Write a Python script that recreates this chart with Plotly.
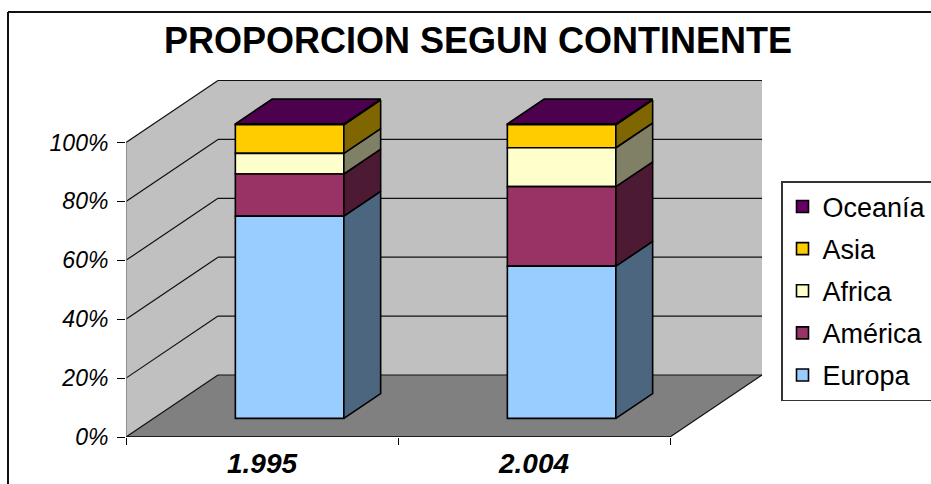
import plotly.graph_objects as go

years = ["1.995", "2.004"]
series_names = ["Europa", "América", "Africa", "Asia", "Oceanía"]
europa = [68.7, 51.7]
america = [14.3, 27.0]
africa = [7.0, 13.2]
asia = [9.7, 7.8]
oceania = [0.3, 0.3]
pct_ticks = [0, 20, 40, 60, 80, 100]
pct_labels = ["0%", "20%", "40%", "60%", "80%", "100%"]

front_colors = ["#99CCFF", "#993366", "#FFFFCC", "#FFCC00", "#660066"]
side_colors = ["#4D6680", "#4D1A33", "#808066", "#806600", "#330033"]
top_color = "#4D004D"

# Geometry of the oblique projection, in pixels
L, T, W_PX, H_PX = 126, 76, 640, 361
CAT_PX = 272
PCT_PX = 2.945
DEPTH_X = 92 / CAT_PX
DEPTH_Y = 62 / PCT_PX
BAR_W = 108.5 / CAT_PX
D_FRONT, D_BACK = 0.3, 0.7


def proj(x, y, d=0.0):
    return x + d * DEPTH_X, y + d * DEPTH_Y


def path(points):
    pts = [proj(*p) for p in points]
    return "M" + "L".join(f"{x:.4f},{y:.4f}" for x, y in pts) + "Z"


shapes = []
WALL = "#C0C0C0"
FLOOR = "#808080"
n = len(years)
shapes.append(dict(type="path", xref="x", yref="y", layer="below", fillcolor=WALL, line=dict(width=0),
                   path=path([(0, 0, 0), (0, 0, 1), (0, 100, 1), (0, 100, 0)])))
shapes.append(dict(type="path", xref="x", yref="y", layer="below", fillcolor=WALL, line=dict(width=0),
                   path=path([(0, 0, 1), (n, 0, 1), (n, 100, 1), (0, 100, 1)])))
shapes.append(dict(type="path", xref="x", yref="y", layer="below", fillcolor=FLOOR, line=dict(width=0),
                   path=path([(0, 0, 0), (n, 0, 0), (n, 0, 1), (0, 0, 1)])))
for v in pct_ticks:
    x0, y0 = proj(0, v, 0)
    x1, y1 = proj(0, v, 1)
    x2, y2 = proj(n, v, 1)
    shapes.append(dict(type="line", xref="x", yref="y", layer="below", x0=x0, y0=y0, x1=x1, y1=y1,
                       line=dict(color="#111111", width=1.2)))
    shapes.append(dict(type="line", xref="x", yref="y", layer="below", x0=x1, y0=y1, x1=x2, y1=y2,
                       line=dict(color="#111111", width=1.2)))
x3, y3 = proj(n, 0, 0)
x4, y4 = proj(n, 0, 1)
shapes.append(dict(type="line", xref="x", yref="y", layer="below", x0=x3, y0=y3, x1=x4, y1=y4,
                   line=dict(color="#111111", width=1.2)))


# Outer frame (only left and top edges are visible in the crop)
def px(xp):
    return (xp - L) / W_PX


def py(yp):
    return (T + H_PX - yp) / H_PX


for a in [(8, 12, 8, 484), (8, 12, 931, 12)]:
    shapes.append(dict(type="line", xref="paper", yref="paper", x0=px(a[0]), y0=py(a[1]), x1=px(a[2]), y1=py(a[3]),
                       line=dict(color="#111111", width=2)))

fig = go.Figure()
all_values = [europa, america, africa, asia, oceania]
cum = [0.0] * n
centers = [i + 0.5 for i in range(n)]
LINE = dict(color="#000000", width=1.6)
faces = []
bars = []
for name, vals, fc, sc in zip(series_names, all_values, front_colors, side_colors):
    bases = []
    xs = []
    for i in range(n):
        fx, fy = proj(centers[i], cum[i], D_FRONT)
        xs.append(fx)
        bases.append(fy)
        xr = centers[i] + BAR_W / 2
        lo, hi = cum[i], cum[i] + vals[i]
        a = [proj(xr, lo, D_FRONT), proj(xr, lo, D_BACK), proj(xr, hi, D_BACK), proj(xr, hi, D_FRONT)]
        faces.append(go.Scatter(x=[p[0] for p in a] + [a[0][0]], y=[p[1] for p in a] + [a[0][1]],
                                mode="lines", fill="toself", fillcolor=sc, line=LINE,
                                showlegend=False, hoverinfo="skip"))
        cum[i] = hi
    bars.append(go.Bar(x=xs, y=vals, base=bases, width=BAR_W, name=name, legendgroup=name,
                       marker=dict(color=fc, line=LINE)))

# Added top series first so the legend lists Oceanía at the top
for tr in reversed(bars):
    fig.add_trace(tr)
for tr in faces:
    fig.add_trace(tr)
for i in range(n):
    xl, xr = centers[i] - BAR_W / 2, centers[i] + BAR_W / 2
    a = [proj(xl, cum[i], D_FRONT), proj(xr, cum[i], D_FRONT), proj(xr, cum[i], D_BACK), proj(xl, cum[i], D_BACK)]
    fig.add_trace(go.Scatter(x=[p[0] for p in a] + [a[0][0]], y=[p[1] for p in a] + [a[0][1]],
                             mode="lines", fill="toself", fillcolor=top_color, line=LINE,
                             showlegend=False, hoverinfo="skip"))

# Axis lines that stop at the wall's extent
fig.add_trace(go.Scatter(x=[0, 0], y=[0, 100], mode="lines", line=dict(color="#808080", width=1.5),
                         cliponaxis=False, showlegend=False, hoverinfo="skip"))
fig.add_trace(go.Scatter(x=[0, n], y=[0, 0], mode="lines", line=dict(color="#000000", width=1.5),
                         cliponaxis=False, showlegend=False, hoverinfo="skip"))

fig.update_layout(
    width=931, height=484, autosize=False,
    margin=dict(l=L, t=T, r=931 - L - W_PX, b=484 - T - H_PX, pad=0, autoexpand=False),
    paper_bgcolor="white", plot_bgcolor="white",
    barmode="overlay",
    shapes=shapes,
    font=dict(family="Liberation Sans, Arial, sans-serif", color="#000000"),
    title=dict(text="<b>PROPORCION SEGUN CONTINENTE</b>", x=478 / 931, xref="container", xanchor="center",
               y=1 - 40 / 484, yref="container", yanchor="middle",
               font=dict(size=36, color="#000000")),
    xaxis=dict(range=[0, W_PX / CAT_PX], showgrid=False, zeroline=False, showline=False, automargin=False,
               tickmode="array", tickvals=centers, ticktext=[f"<b><i>{y}</i></b>" for y in years],
               ticks="", ticklabelstandoff=7, tickfont=dict(size=28),
               minor=dict(tickmode="array", tickvals=list(range(n + 1)), ticks="outside", ticklen=7,
                          tickcolor="#000000", tickwidth=1, showgrid=False)),
    yaxis=dict(range=[0, H_PX / PCT_PX], showgrid=False, zeroline=False, showline=False, automargin=False,
               tickmode="array", tickvals=pct_ticks, ticktext=[f"<i>{t}</i>" for t in pct_labels],
               ticks="outside", ticklen=8, tickcolor="#000000", tickwidth=1,
               ticklabelstandoff=4, tickfont=dict(size=23)),
    legend=dict(x=(781 - L) / W_PX, y=py(181), xanchor="left", yanchor="top",
                bgcolor="white", bordercolor="#333333", borderwidth=1.5,
                traceorder="grouped", tracegroupgap=4,
                font=dict(size=27, color="#000000"), itemwidth=30),
)
fig.write_html("out.html", post_script="document.body.style.margin='0';",
               config={"displayModeBar": False})
